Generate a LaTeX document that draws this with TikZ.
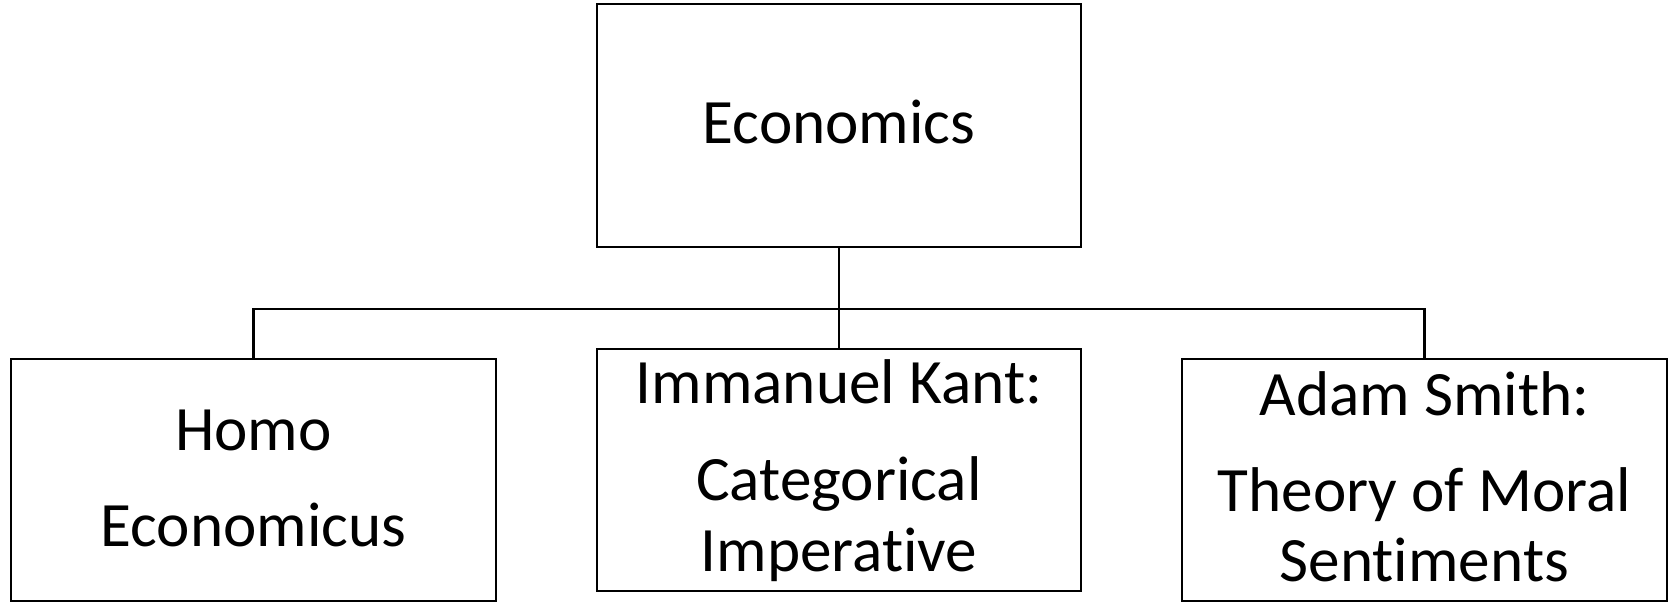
\documentclass[tikz,border=0pt]{standalone}
\usepackage{fontspec}
\setmainfont{Carlito}[Ligatures={NoCommon,NoRare}, Contextuals=NoAlternate]
\begin{document}
\begin{tikzpicture}[x=0.5pt, y=-0.5pt,
  box/.style={draw=black, line width=1.4pt, inner sep=0pt, outer sep=0pt,
              minimum width=#1},
  box/.default=242pt,
  txt/.style={anchor=base, inner sep=0pt, font=\fontsize{31.6pt}{37pt}\selectfont},
  link/.style={draw=black, line width=1.3pt}]
\useasboundingbox (0,0) rectangle (1671,601);

% boxes
\node[box, minimum height=121.5pt] (top)   at (839,125.5) {};
\node[box, minimum height=121pt]   (kant)  at (839,470)   {};
\node[box=242.5pt, minimum height=121pt] (homo)  at (253.5,480) {};
\node[box=242.5pt, minimum height=121pt] (smith) at (1424.5,480) {};

% labels
\node[txt] (tEcon)  at (839,143)    {Economics};
\node[txt] (tHomo1) at (253.5,450)  {Homo};
\node[txt] (tHomo2) at (253.5,546.7) {Economicus};
\node[txt] (tKant1) at (839,403.3)  {Immanuel Kant:};
\node[txt] (tKant2) at (839,500)    {Categorical};
\node[txt] (tKant3) at (839,571.7)  {Imperat\kern0pt ive};
\node[txt] (tSm1)   at (1424.5,415) {Adam Smith:};
\node[txt] (tSm2)   at (1424.5,511.7) {Theory of Moral};
\node[txt] (tSm3)   at (1424.5,581.7) {Sentimen\kern0pt ts};

% connectors
\coordinate (bus) at (839,309);
\draw[link] (top.south) -- (bus);
\draw[link] (homo.north) |- (bus) -| (smith.north);
\draw[link] (bus) -- (kant.north);
\end{tikzpicture}
\end{document}
